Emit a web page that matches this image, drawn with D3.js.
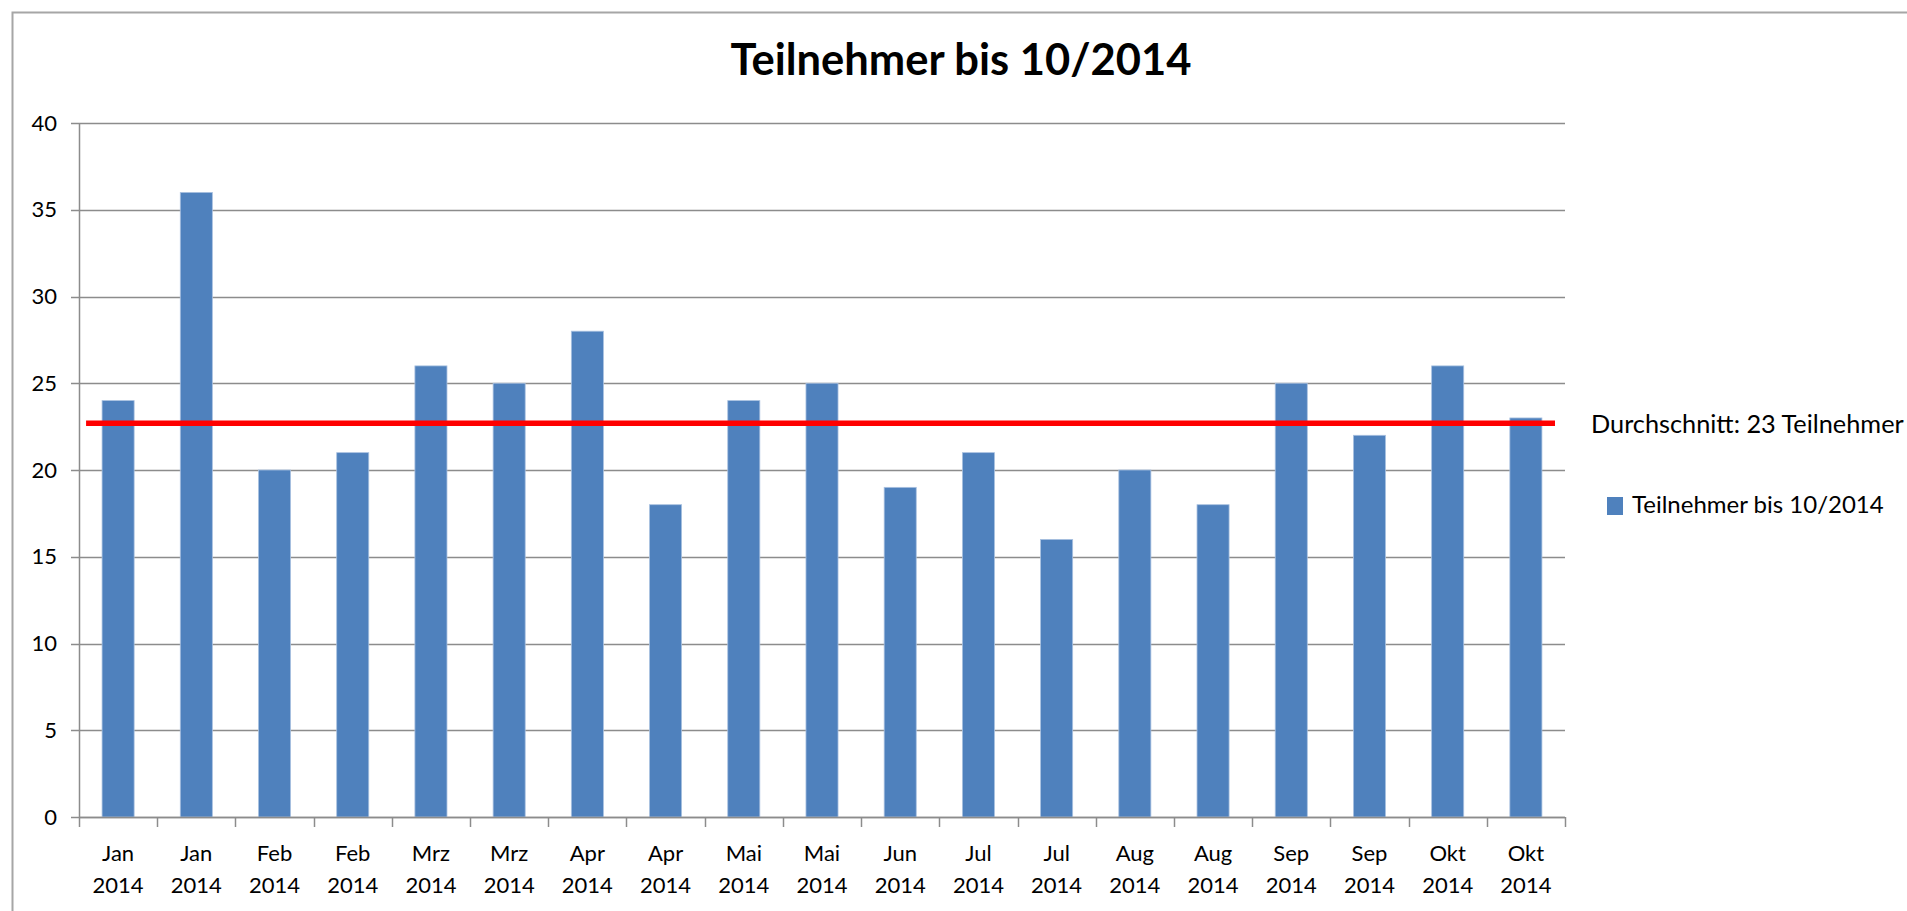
<!DOCTYPE html>
<html>
<head>
<meta charset="utf-8">
<script src="https://cdn.jsdelivr.net/npm/d3@7"></script>
<style>
  body { margin: 0; background: #fff; }
  text { font-family: Lato, "Open Sans", sans-serif; fill: #000; }
</style>
</head>
<body>
<div id="chart"></div>
<script>
// data
var months = ["Jan","Jan","Feb","Feb","Mrz","Mrz","Apr","Apr","Mai","Mai","Jun","Jul","Jul","Aug","Aug","Sep","Sep","Okt","Okt"];
var years = ["2014","2014","2014","2014","2014","2014","2014","2014","2014","2014","2014","2014","2014","2014","2014","2014","2014","2014","2014"];
var teilnehmer = [24,36,20,21,26,25,28,18,24,25,19,21,16,20,18,25,22,26,23];
var yTicks = [0,5,10,15,20,25,30,35,40];
var avgLine = 22.7;
var avgLabel = "Durchschnitt: 23 Teilnehmer";
var seriesName = "Teilnehmer bis 10/2014";

var W = 1907, H = 911;
var margin = {top: 123, right: 342, bottom: 94, left: 79},
    width = W - margin.left - margin.right,
    height = H - margin.top - margin.bottom;

var svg = d3.select("#chart").append("svg")
    .attr("width", W)
    .attr("height", H);

// outer frame
svg.append("rect")
    .attr("x", 12.5).attr("y", 12.5)
    .attr("width", W + 20).attr("height", H + 20)
    .attr("fill", "none")
    .attr("stroke", "#a6a6a6")
    .attr("stroke-width", 2);

svg.append("text")
    .attr("x", 961).attr("y", 75)
    .attr("text-anchor", "middle")
    .style("font-size", "43.5px")
    .style("font-weight", "bold")
    .text(seriesName);

var g = svg.append("g")
    .attr("transform", "translate(" + margin.left + "," + margin.top + ")");

var x = d3.scaleBand()
    .domain(d3.range(teilnehmer.length))
    .range([0, width])
    .paddingInner(0.59)
    .paddingOuter(0.295);

var y = d3.scaleLinear()
    .domain([0, 40])
    .range([height, 0]);

// gridlines
g.append("g")
    .selectAll("line")
    .data(yTicks)
    .enter().append("line")
    .attr("x1", -8)
    .attr("x2", width)
    .attr("y1", function(d) { return Math.round(y(d)) + 0.5; })
    .attr("y2", function(d) { return Math.round(y(d)) + 0.5; })
    .attr("stroke", "#8c8c8c")
    .attr("stroke-width", 1.5);

// y axis
var yAxis = g.append("g")
    .call(d3.axisLeft(y).tickValues(yTicks).tickSize(0).tickPadding(22));
yAxis.select(".domain").attr("stroke", "#8c8c8c").attr("stroke-width", 1.5);
yAxis.selectAll("text")
    .style("font-size", "22px")
    .style("font-family", "Lato, sans-serif")
    .attr("fill", "#000");

// bars
g.append("g")
    .selectAll("rect")
    .data(teilnehmer)
    .enter().append("rect")
    .attr("x", function(d, i) { return x(i); })
    .attr("y", function(d) { return y(d); })
    .attr("width", x.bandwidth())
    .attr("height", function(d) { return height - y(d); })
    .attr("fill", "#4f81bd")
    .attr("stroke", "#a9c1e0")
    .attr("stroke-width", 0.8);

// x axis line + boundary ticks
var xAxis = g.append("g").attr("transform", "translate(0," + height + ")");
xAxis.append("line")
    .attr("x1", 0).attr("x2", width)
    .attr("y1", 0.5).attr("y2", 0.5)
    .attr("stroke", "#8c8c8c")
    .attr("stroke-width", 1.5);
xAxis.selectAll("line.tick")
    .data(d3.range(teilnehmer.length + 1))
    .enter().append("line")
    .attr("class", "tick")
    .attr("x1", function(i) { return Math.round(i * x.step()) + 0.5; })
    .attr("x2", function(i) { return Math.round(i * x.step()) + 0.5; })
    .attr("y1", 0).attr("y2", 10)
    .attr("stroke", "#8c8c8c")
    .attr("stroke-width", 1.5);

var lbl = xAxis.selectAll("text.lbl")
    .data(teilnehmer)
    .enter().append("text")
    .attr("class", "lbl")
    .attr("text-anchor", "middle")
    .style("font-size", "22px");
lbl.append("tspan")
    .attr("x", function(d, i) { return x(i) + x.bandwidth() / 2; })
    .attr("y", 44)
    .text(function(d, i) { return months[i]; });
lbl.append("tspan")
    .attr("x", function(d, i) { return x(i) + x.bandwidth() / 2; })
    .attr("y", 76)
    .text(function(d, i) { return years[i]; });

// average line
g.append("line")
    .attr("x1", x(0) - 16)
    .attr("x2", width - 10)
    .attr("y1", y(avgLine))
    .attr("y2", y(avgLine))
    .attr("stroke", "#ff0000")
    .attr("stroke-width", 5.5);

svg.append("text")
    .attr("x", 1591).attr("y", 433)
    .style("font-size", "25.3px")
    .text(avgLabel);

// legend
svg.append("rect")
    .attr("x", 1607).attr("y", 497)
    .attr("width", 16).attr("height", 18)
    .attr("fill", "#4f81bd");
svg.append("text")
    .attr("x", 1632).attr("y", 513)
    .style("font-size", "24px")
    .text(seriesName);
</script>
</body>
</html>
